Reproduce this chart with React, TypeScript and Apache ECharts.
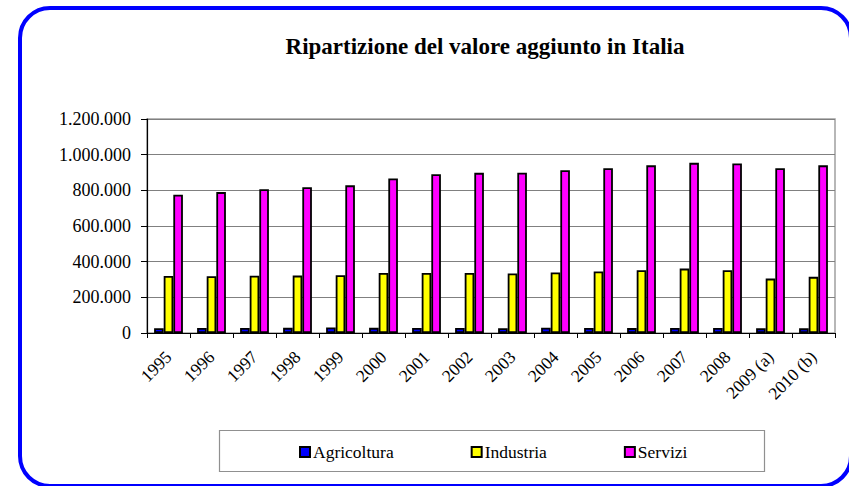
import React, { useEffect, useRef } from "react";
import * as echarts from "echarts";

const categories = [
  "1995", "1996", "1997", "1998", "1999", "2000", "2001", "2002",
  "2003", "2004", "2005", "2006", "2007", "2008", "2009 (a)", "2010 (b)",
];
const agricoltura = [
  27000, 28000, 28500, 29000, 30500, 29000, 28000, 28000,
  27000, 29500, 28500, 27500, 28000, 28500, 26000, 26000,
];
const industria = [
  320000, 318000, 321000, 322000, 324000, 337000, 337000, 337000,
  334000, 339000, 345000, 352000, 361000, 352000, 305000, 315000,
];
const servizi = [
  775000, 790000, 806000, 817000, 828000, 866000, 890000, 898000,
  899000, 913000, 924000, 940000, 954000, 951000, 924000, 940000,
];
const seriesNames = ["Agricoltura", "Industria", "Servizi"];
const titleText = "Ripartizione del valore aggiunto in Italia";

const FONT = "'Liberation Serif', 'Times New Roman', serif";

function fmt(v: number): string {
  return String(v).replace(/\B(?=(\d{3})+(?!\d))/g, ".");
}

export default function App() {
  const ref = useRef<HTMLDivElement>(null);
  useEffect(() => {
    if (!ref.current) return;
    const chart = echarts.init(ref.current, undefined, { renderer: "svg" });
    const colors = ["#0000FF", "#FFFF00", "#FF00FF"];
    const datas = [agricoltura, industria, servizi];
    chart.setOption({
      animation: false,
      backgroundColor: "#ffffff",
      title: {
        text: titleText,
        left: 485,
        textAlign: "center",
        top: 35,
        padding: 0,
        textStyle: {
          fontFamily: FONT,
          fontSize: 23,
          fontWeight: "bold",
          color: "#000",
        },
      },
      legend: {
        data: seriesNames,
        left: 299,
        top: 443,
        padding: 0,
        itemWidth: 10,
        itemHeight: 10,
        itemGap: 77,
        icon: "rect",
        textStyle: {
          fontFamily: FONT,
          fontSize: 17.5,
          color: "#000",
          padding: [0, 0, 0, -2],
        },
      },
      graphic: [
        {
          type: "rect",
          shape: { x: 20, y: 8, width: 831, height: 478, r: 30 },
          style: { fill: "none", stroke: "#0000FF", lineWidth: 4 },
          z: 100,
        },
        {
          type: "rect",
          shape: { x: 219.5, y: 430.5, width: 545, height: 41 },
          style: { fill: "none", stroke: "#909090", lineWidth: 1.2 },
          z: 0,
        },
      ],
      grid: {
        left: 147,
        right: 14,
        top: 119,
        bottom: 153,
        show: true,
        borderColor: "#a0a0a0",
        borderWidth: 1.5,
        backgroundColor: "transparent",
      },
      xAxis: {
        type: "category",
        data: categories,
        axisLine: { lineStyle: { color: "#000", width: 1.2 } },
        axisTick: { show: true, length: 5, lineStyle: { color: "#000" } },
        axisLabel: {
          rotate: 45,
          margin: 21,
          interval: 0,
          fontFamily: FONT,
          fontSize: 17.5,
          color: "#000",
        },
      },
      yAxis: {
        type: "value",
        min: 0,
        max: 1200000,
        interval: 200000,
        axisLine: { show: true, lineStyle: { color: "#000", width: 1.2 } },
        axisTick: { show: true, length: 6, lineStyle: { color: "#000" } },
        splitLine: { lineStyle: { color: "#808080", width: 1 } },
        axisLabel: {
          margin: 16,
          formatter: (v: number) => fmt(v),
          fontFamily: FONT,
          fontSize: 18,
          color: "#000",
        },
      },
      series: seriesNames.map((name, i) => ({
        type: "bar",
        barGap: "0%",
        barCategoryGap: "33%",
        name,
        data: datas[i],
        itemStyle: { color: colors[i], borderColor: "#000", borderWidth: 1.8 },
      })),
    });
    return () => chart.dispose();
  }, []);
  return (
    <div
      ref={ref}
      style={{ position: "fixed", left: 0, top: 0, width: 849, height: 486 }}
    />
  );
}
